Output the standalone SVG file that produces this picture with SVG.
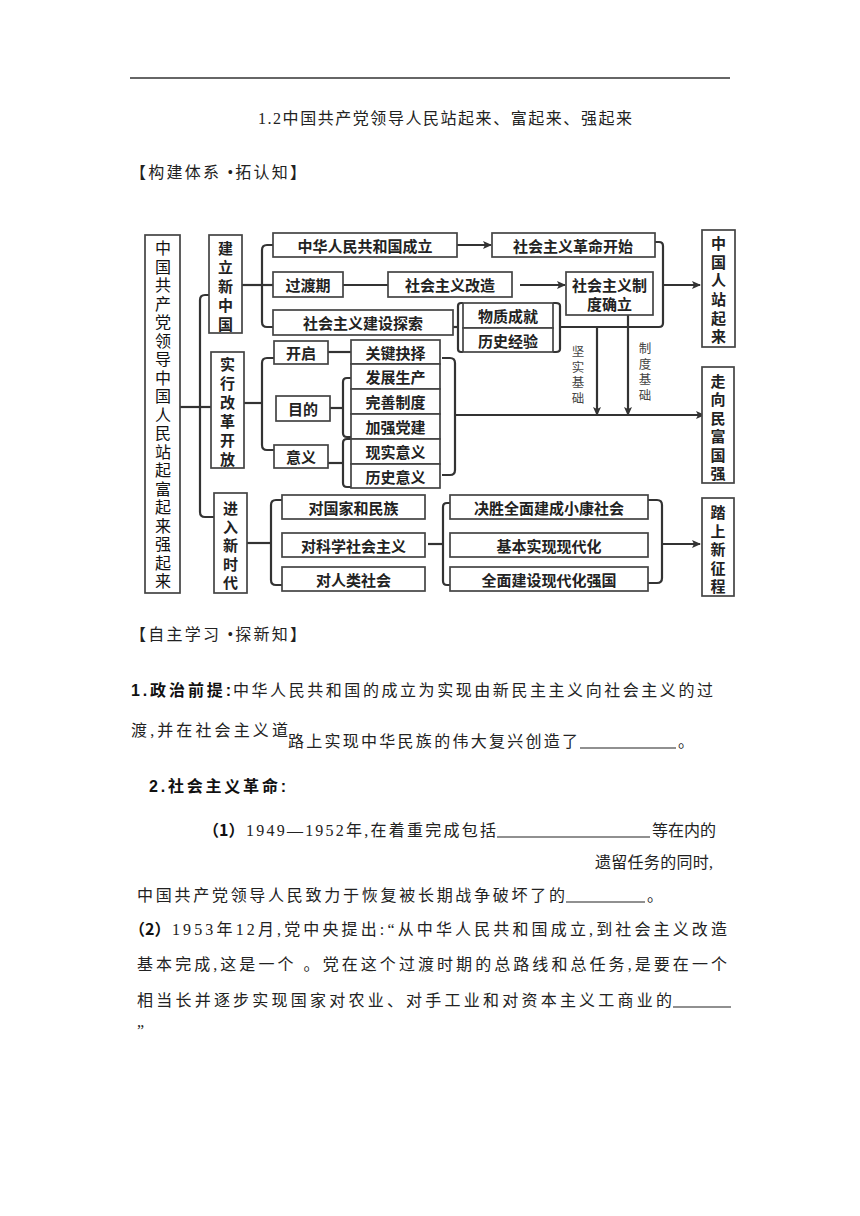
<svg xmlns="http://www.w3.org/2000/svg" width="860" height="1216" viewBox="0 0 860 1216">
<defs>
<marker id="ah" markerWidth="10" markerHeight="10" refX="8" refY="4" orient="auto" markerUnits="userSpaceOnUse">
<path d="M0,0 L9,4 L0,8 L2,4 z" fill="#333"/>
</marker>
<style>
.box{fill:#fff;stroke:#444;stroke-width:1.7}
.bt{font-family:"Noto Sans CJK SC",sans-serif;font-weight:700;font-size:15px;fill:#222;text-anchor:middle;dominant-baseline:central}
.vt{font-family:"Noto Sans CJK SC",sans-serif;font-weight:700;font-size:15px;fill:#222;text-anchor:middle;dominant-baseline:central}
.lbl{font-family:"Noto Sans CJK SC",sans-serif;font-size:12.5px;fill:#444;text-anchor:middle;dominant-baseline:central}
.conn path{fill:none;stroke:#333;stroke-width:2.2}
.arr{marker-end:url(#ah)}
.body{font-family:"Liberation Serif","Noto Sans CJK SC",serif;font-size:16px;fill:#222}
.cjk{font-family:"Noto Sans CJK SC",sans-serif;font-weight:700;font-size:16px;fill:#111}
.bold{font-family:"Liberation Sans","Noto Sans CJK SC",sans-serif;font-weight:700;font-size:16px;fill:#111}
.ul{stroke:#222;stroke-width:1.2}
</style>
</defs>
<rect width="860" height="1216" fill="#fff"/>
<line x1="130" y1="78" x2="730" y2="78" stroke="#333" stroke-width="1.5"/>
<text class="body" x="258" y="124" textLength="374" lengthAdjust="spacing">1.2中国共产党领导人民站起来、富起来、强起来</text>
<text class="body" x="130" y="178" textLength="176" lengthAdjust="spacing">【构建体系 •拓认知】</text>

<g id="connectors" class="conn">
<path d="M180,407 H200"/>
<path d="M209,295 H205 Q200,295 200,300 V512 Q200,517 205,517 H214"/>
<path d="M200,407 H211"/>
<path d="M242,285 H262"/>
<path d="M273,245 H267 Q262,245 262,250 V322 Q262,327 267,327 H273"/>
<path d="M262,285 H273"/>
<path class="arr" d="M457,245 H491"/>
<path d="M343,285 H388"/>
<path class="arr" d="M520,285 H565"/>
<path d="M453,327 H458"/>
<path d="M463,303 H461 Q458,303 458,306 V349 Q458,352 461,352 H463"/>
<path d="M553,303 H556 Q560,303 560,306 V349 Q560,352 556,352 H553"/>
<path d="M560,327 H659 Q663,327 663,323 V246 Q663,242 659,242 H655"/>
<path class="arr" d="M663,285 H700"/>
<path class="arr" d="M597,327 V415"/>
<path class="arr" d="M628,315 V415"/>
<path d="M442,358 H450 Q455,358 455,363 V470 Q455,475 450,475 H442"/>
<path class="arr" d="M455,415 H704"/>
<path d="M244,403 H262"/>
<path d="M274,358 H267 Q262,358 262,363 V445 Q262,450 267,450 H274"/>
<path d="M328,352 H351"/>
<path d="M330,408 H343"/>
<path d="M351,378 H347 Q343,378 343,382 V433 Q343,437 347,437 H351"/>
<path d="M328,463 H343"/>
<path d="M351,439 H347 Q343,439 343,443 V483 Q343,487 347,487 H351"/>
<path d="M247,543 H271"/>
<path d="M282,500 H276 Q271,500 271,505 V580 Q271,585 276,585 H282"/>
<path d="M428,544 H443"/>
<path d="M450,503 H447 Q443,503 443,507 V581 Q443,585 447,585 H450"/>
<path d="M648,500 H657 Q662,500 662,505 V578 Q662,583 657,583 H648"/>
<path class="arr" d="M662,544 H700"/>
</g>

<g id="n-main"><rect class="box" x="145" y="235" width="35" height="358"/>
<text class="vt" style="font-weight:400;font-size:16px;fill:#111"><tspan x="163" y="247">中</tspan><tspan x="163" y="265.5">国</tspan><tspan x="163" y="284">共</tspan><tspan x="163" y="302.5">产</tspan><tspan x="163" y="321">党</tspan><tspan x="163" y="339.5">领</tspan><tspan x="163" y="358">导</tspan><tspan x="163" y="376.5">中</tspan><tspan x="163" y="395">国</tspan><tspan x="163" y="413.5">人</tspan><tspan x="163" y="432">民</tspan><tspan x="163" y="450.5">站</tspan><tspan x="163" y="469">起</tspan><tspan x="163" y="487.5">富</tspan><tspan x="163" y="506">起</tspan><tspan x="163" y="524.5">来</tspan><tspan x="163" y="543">强</tspan><tspan x="163" y="561.5">起</tspan><tspan x="163" y="580">来</tspan></text></g>

<g id="n-jianli"><rect class="box" x="209" y="235" width="33" height="98"/>
<text class="vt"><tspan x="225.5" y="247">建</tspan><tspan x="225.5" y="266">立</tspan><tspan x="225.5" y="285">新</tspan><tspan x="225.5" y="304">中</tspan><tspan x="225.5" y="322.5">国</tspan></text></g>

<g id="n-gaige"><rect class="box" x="211" y="352" width="33" height="116"/>
<text class="vt"><tspan x="227.5" y="363">实</tspan><tspan x="227.5" y="382">行</tspan><tspan x="227.5" y="401">改</tspan><tspan x="227.5" y="420">革</tspan><tspan x="227.5" y="439">开</tspan><tspan x="227.5" y="458">放</tspan></text></g>

<g id="n-xinshidai"><rect class="box" x="214" y="493" width="33" height="100"/>
<text class="vt"><tspan x="230.5" y="507">进</tspan><tspan x="230.5" y="525.5">入</tspan><tspan x="230.5" y="544">新</tspan><tspan x="230.5" y="562.5">时</tspan><tspan x="230.5" y="581">代</tspan></text></g>

<g id="n-chengli"><rect class="box" x="273" y="233" width="184" height="24"/><text class="bt" x="365" y="245">中华人民共和国成立</text></g>
<g id="n-guodu"><rect class="box" x="273" y="272" width="70" height="25"/><text class="bt" x="308" y="284.5">过渡期</text></g>
<g id="n-gaizao"><rect class="box" x="388" y="272" width="124" height="25"/><text class="bt" x="450" y="284.5">社会主义改造</text></g>
<g id="n-tansuo"><rect class="box" x="273" y="310" width="180" height="25"/><text class="bt" x="363" y="322.5">社会主义建设探索</text></g>
<g id="n-geming"><rect class="box" x="492" y="233" width="163" height="24"/><text class="bt" x="573" y="245">社会主义革命开始</text></g>
<g id="n-zhidu"><rect class="box" x="566" y="272" width="87" height="43"/><text class="bt"><tspan x="609.5" y="284">社会主义制</tspan><tspan x="609.5" y="303">度确立</tspan></text></g>
<g id="n-wuzhi"><rect class="box" x="463" y="303" width="90" height="25"/><text class="bt" x="508" y="315.5">物质成就</text></g>
<g id="n-lishijy"><rect class="box" x="463" y="328" width="90" height="24"/><text class="bt" x="508" y="340">历史经验</text></g>

<g id="n-zhanqilai"><rect class="box" x="702" y="230" width="33" height="117"/>
<text class="vt"><tspan x="718.5" y="242">中</tspan><tspan x="718.5" y="260.6">国</tspan><tspan x="718.5" y="279">人</tspan><tspan x="718.5" y="298">站</tspan><tspan x="718.5" y="316.5">起</tspan><tspan x="718.5" y="335">来</tspan></text></g>
<g id="n-fuqiang"><rect class="box" x="702" y="367" width="32" height="116"/>
<text class="vt"><tspan x="718" y="380">走</tspan><tspan x="718" y="398.4">向</tspan><tspan x="718" y="417">民</tspan><tspan x="718" y="435.4">富</tspan><tspan x="718" y="453.8">国</tspan><tspan x="718" y="472.2">强</tspan></text></g>
<g id="n-zhengcheng"><rect class="box" x="702" y="498" width="32" height="98"/>
<text class="vt"><tspan x="718" y="511">踏</tspan><tspan x="718" y="529.5">上</tspan><tspan x="718" y="548">新</tspan><tspan x="718" y="566.5">征</tspan><tspan x="718" y="585">程</tspan></text></g>

<g id="l-jianshi"><text class="lbl"><tspan x="578" y="350">坚</tspan><tspan x="578" y="365.7">实</tspan><tspan x="578" y="381.3">基</tspan><tspan x="578" y="397">础</tspan></text></g>
<g id="l-zhidujc"><text class="lbl"><tspan x="645" y="347">制</tspan><tspan x="645" y="362.5">度</tspan><tspan x="645" y="378">基</tspan><tspan x="645" y="393.5">础</tspan></text></g>

<g id="n-kaiqi"><rect class="box" x="274" y="341" width="54" height="23"/><text class="bt" x="301" y="352.5">开启</text></g>
<g id="n-mudi"><rect class="box" x="276" y="396" width="54" height="25"/><text class="bt" x="303" y="408.5">目的</text></g>
<g id="n-yiyi"><rect class="box" x="274" y="445" width="54" height="23"/><text class="bt" x="301" y="456.5">意义</text></g>

<g id="n-guanjian"><rect class="box" x="351" y="340" width="89" height="24"/><text class="bt" x="395.5" y="352">关键抉择</text></g>
<g id="n-fazhan"><rect class="box" x="351" y="364" width="89" height="25"/><text class="bt" x="395.5" y="376.5">发展生产</text></g>
<g id="n-wanshan"><rect class="box" x="351" y="389" width="89" height="25"/><text class="bt" x="395.5" y="401.5">完善制度</text></g>
<g id="n-jiaqiang"><rect class="box" x="351" y="414" width="89" height="25"/><text class="bt" x="395.5" y="426.5">加强党建</text></g>
<g id="n-xianshi"><rect class="box" x="351" y="439" width="89" height="25"/><text class="bt" x="395.5" y="451.5">现实意义</text></g>
<g id="n-lishiyy"><rect class="box" x="351" y="464" width="89" height="24"/><text class="bt" x="395.5" y="476">历史意义</text></g>

<g id="n-guojia"><rect class="box" x="282" y="495" width="143" height="24"/><text class="bt" x="353.5" y="507">对国家和民族</text></g>
<g id="n-kexue"><rect class="box" x="282" y="533" width="143" height="24"/><text class="bt" x="353.5" y="545">对科学社会主义</text></g>
<g id="n-renlei"><rect class="box" x="282" y="567" width="143" height="24"/><text class="bt" x="353.5" y="579">对人类社会</text></g>
<g id="n-xiaokang"><rect class="box" x="450" y="495" width="198" height="24"/><text class="bt" x="549" y="507">决胜全面建成小康社会</text></g>
<g id="n-xiandaihua"><rect class="box" x="450" y="533" width="198" height="24"/><text class="bt" x="549" y="545">基本实现现代化</text></g>
<g id="n-qiangguo"><rect class="box" x="450" y="567" width="198" height="24"/><text class="bt" x="549" y="579">全面建设现代化强国</text></g>

<text class="body" x="130" y="640" textLength="176" lengthAdjust="spacing">【自主学习 •探新知】</text>

<text class="bold" x="131" y="696" textLength="100" lengthAdjust="spacing">1.政治前提:</text>
<text class="body" x="233" y="696" textLength="480" lengthAdjust="spacing">中华人民共和国的成立为实现由新民主主义向社会主义的过</text>
<text class="body" x="131" y="736" textLength="157" lengthAdjust="spacing">渡,并在社会主义道</text>
<text class="body" x="288" y="747" textLength="290" lengthAdjust="spacing">路上实现中华民族的伟大复兴创造了</text>
<line class="ul" x1="580" y1="748" x2="676" y2="748"/>
<text class="body" x="678" y="747">。</text>

<text class="bold" x="149" y="792" textLength="137" lengthAdjust="spacing">2.社会主义革命:</text>

<text class="cjk" x="203" y="836">（1）</text>
<text class="body" x="246" y="836" textLength="250" lengthAdjust="spacing">1949—1952年,在着重完成包括</text>
<line class="ul" x1="497" y1="837" x2="650" y2="837"/>
<text class="body" x="652" y="836">等在内的</text>
<text class="body" x="595" y="868" textLength="118" lengthAdjust="spacing">遗留任务的同时,</text>
<text class="body" x="137" y="901" textLength="428" lengthAdjust="spacing">中国共产党领导人民致力于恢复被长期战争破坏了的</text>
<line class="ul" x1="566" y1="902" x2="645" y2="902"/>
<text class="body" x="647" y="901">。</text>

<text class="cjk" x="129" y="935">（2）</text>
<text class="body" x="172" y="935" textLength="555" lengthAdjust="spacing">1953年12月,党中央提出:“从中华人民共和国成立,到社会主义改造</text>
<text class="body" x="137" y="970" textLength="590" lengthAdjust="spacing">基本完成,这是一个  。党在这个过渡时期的总路线和总任务,是要在一个</text>
<text class="body" x="137" y="1006" textLength="535" lengthAdjust="spacing">相当长并逐步实现国家对农业、对手工业和对资本主义工商业的</text>
<line class="ul" x1="673" y1="1007" x2="731" y2="1007"/>
<text class="body" x="137" y="1036">”</text>
</svg>
